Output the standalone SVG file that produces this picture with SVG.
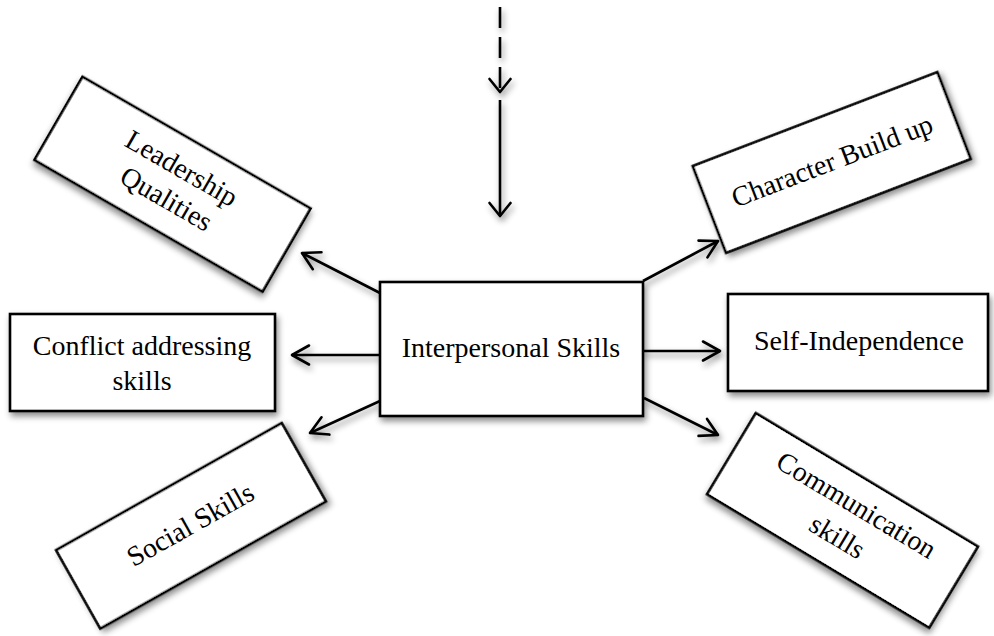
<svg xmlns="http://www.w3.org/2000/svg" width="994" height="636" viewBox="0 0 994 636">
<style>
.box{fill:#fff;stroke:#000;stroke-width:2.6}
.lbl{font-family:"Liberation Serif","Times New Roman",serif;font-size:28px;fill:#000;text-anchor:middle}
.con{stroke:#000;stroke-width:2.6;fill:none}
</style>
<defs>
<filter id="sh" x="-20%" y="-20%" width="140%" height="150%">
<feDropShadow dx="2" dy="4" stdDeviation="3" flood-color="#000" flood-opacity="0.45"/>
</filter>
<marker id="ah" markerUnits="userSpaceOnUse" viewBox="-20 -12 24 24" refX="0" refY="0" markerWidth="24" markerHeight="24" orient="auto" overflow="visible">
<path d="M-17,-9.5 L0,0 L-17,9.5" fill="none" stroke="#000" stroke-width="2.6" stroke-linecap="round" stroke-linejoin="round"/>
</marker>
<marker id="ah2" markerUnits="userSpaceOnUse" viewBox="-20 -12 24 24" refX="0" refY="0" markerWidth="24" markerHeight="24" orient="auto" overflow="visible">
<path d="M-13,-10.5 L0,0 L-13,10.5" fill="none" stroke="#000" stroke-width="2.6" stroke-linecap="round" stroke-linejoin="round"/>
</marker>
</defs>

<g id="connectors" filter="url(#sh)">
<line class="con" x1="500" y1="7" x2="500" y2="92" stroke-dasharray="21 9" marker-end="url(#ah2)"/>
<line class="con" x1="500" y1="100" x2="500" y2="216" marker-end="url(#ah2)"/>
<line class="con" x1="380" y1="293" x2="302" y2="253" marker-end="url(#ah)"/>
<line class="con" x1="643" y1="281" x2="718" y2="241" marker-end="url(#ah)"/>
<line class="con" x1="380" y1="355" x2="292" y2="355" marker-end="url(#ah)"/>
<line class="con" x1="642" y1="351" x2="720" y2="351" marker-end="url(#ah)"/>
<line class="con" x1="380" y1="401" x2="310" y2="433" marker-end="url(#ah)"/>
<line class="con" x1="644" y1="398" x2="718" y2="435" marker-end="url(#ah)"/>
</g>

<g id="interpersonal">
<rect class="box" x="380" y="282" width="263" height="134" filter="url(#sh)"/>
<text class="lbl" x="511" y="357">Interpersonal Skills</text>
</g>

<g id="leadership" transform="translate(172.5,184.2) rotate(30)">
<rect class="box" x="-131.7" y="-48" width="263.4" height="96" filter="url(#sh)"/>
<text class="lbl" x="0" y="-9">Leadership</text>
<text class="lbl" x="2" y="25">Qualities</text>
</g>

<g id="character" transform="translate(831.7,162.5) rotate(-21)">
<rect class="box" x="-131" y="-46.5" width="262" height="93" filter="url(#sh)"/>
<text class="lbl" x="1" y="8">Character Build up</text>
</g>

<g id="conflict">
<rect class="box" x="10" y="314" width="265" height="97" filter="url(#sh)"/>
<text class="lbl" x="142" y="355">Conflict addressing</text>
<text class="lbl" x="142" y="390">skills</text>
</g>

<g id="selfindependence">
<rect class="box" x="728" y="294" width="260" height="97" filter="url(#sh)"/>
<text class="lbl" x="859" y="350">Self-Independence</text>
</g>

<g id="social" transform="translate(191,525.8) rotate(-29.4)">
<rect class="box" x="-129.5" y="-45" width="259" height="90" filter="url(#sh)"/>
<text class="lbl" x="0" y="8">Social Skills</text>
</g>

<g id="communication" transform="translate(842.5,520.4) rotate(31)">
<rect class="box" x="-129.6" y="-47.3" width="259.2" height="94.6" filter="url(#sh)"/>
<text class="lbl" x="4" y="-11">Communication</text>
<text class="lbl" x="4" y="26">skills</text>
</g>
</svg>
